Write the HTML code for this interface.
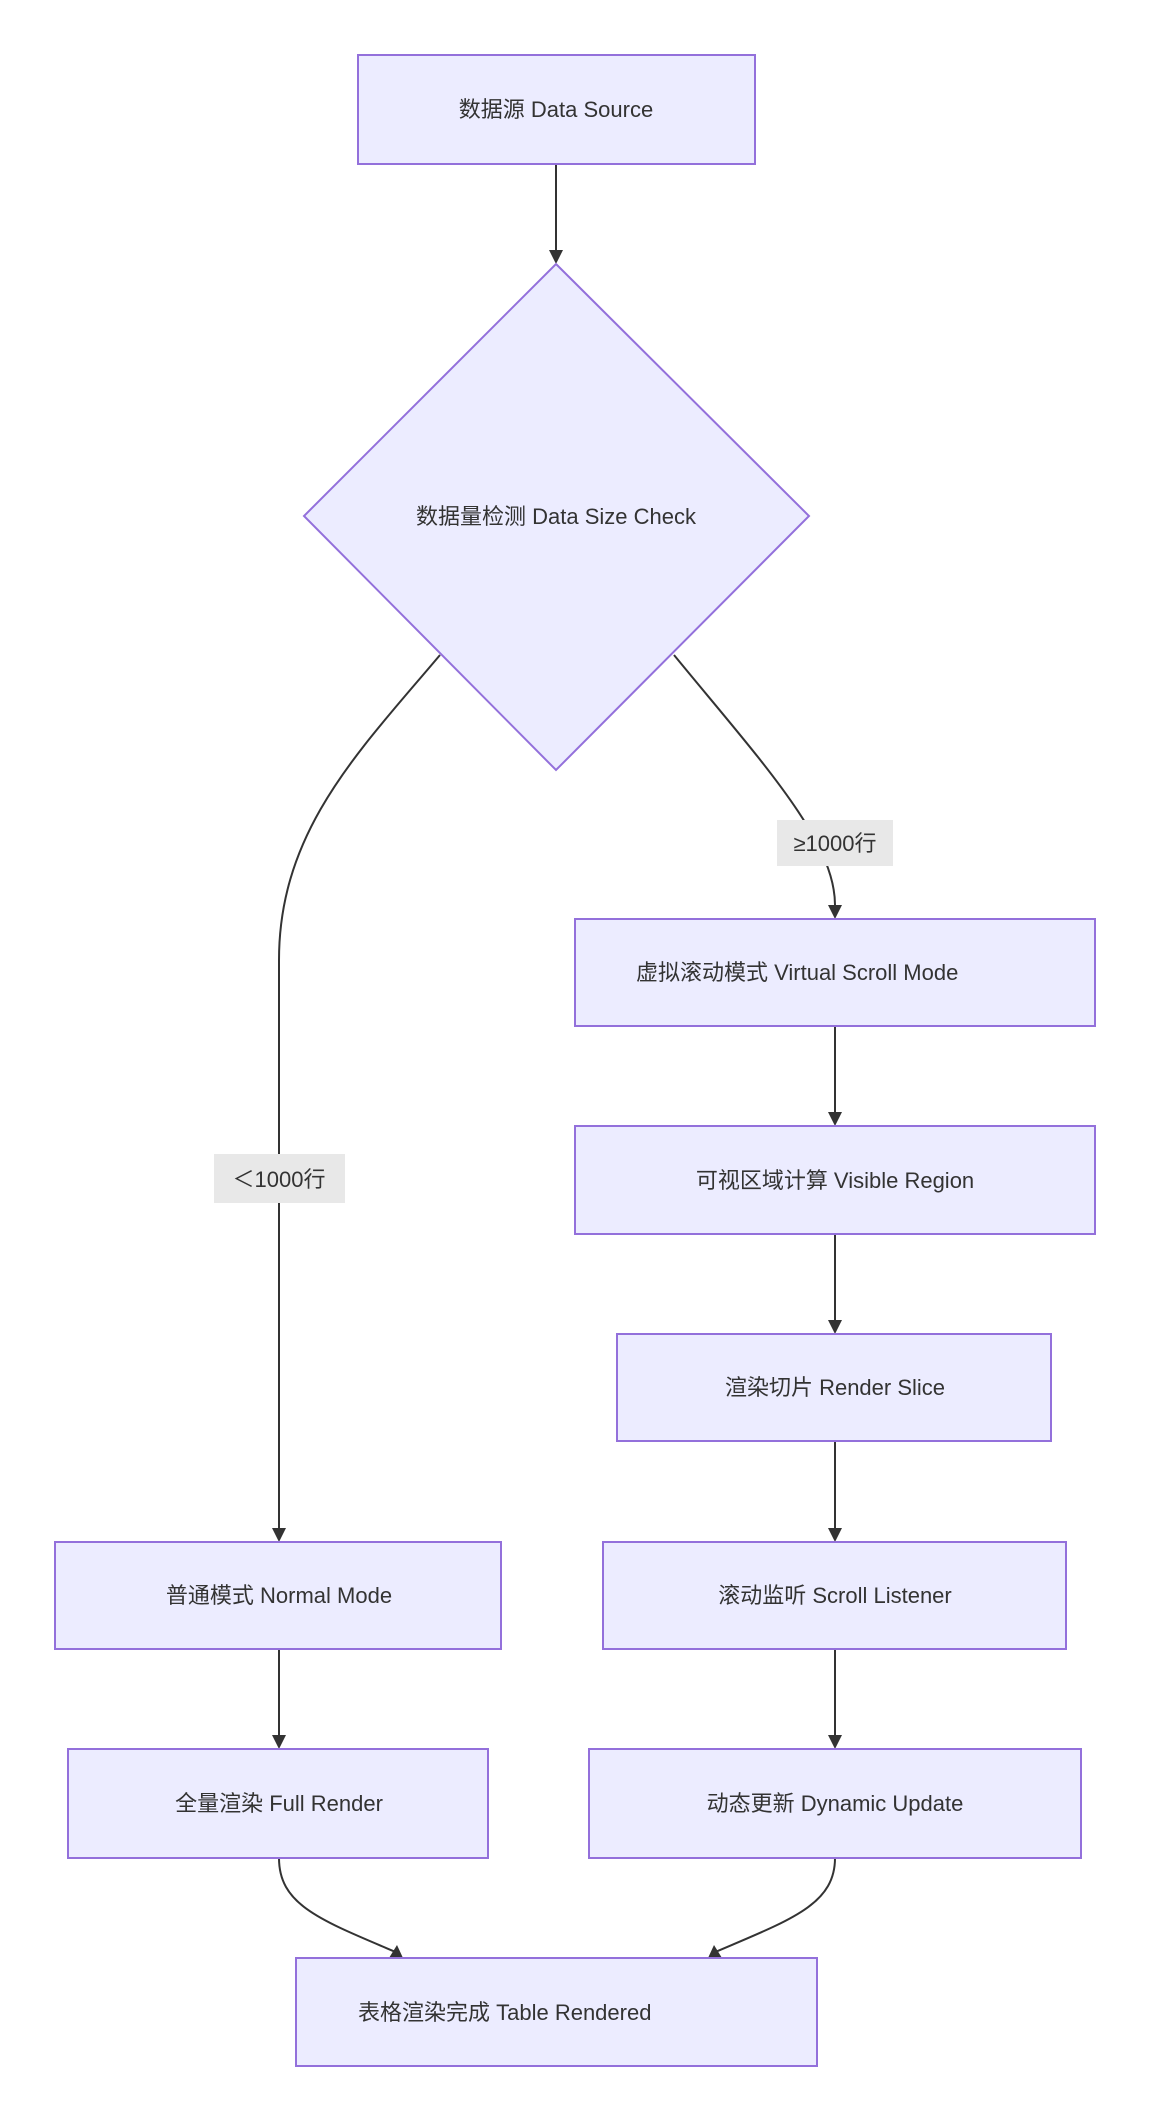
<!DOCTYPE html>
<html><head><meta charset="utf-8"><style>
html,body{margin:0;padding:0;background:#fff;}
svg{display:block;}
text{font-family:"Liberation Sans","Noto Sans CJK SC",sans-serif;font-size:22px;fill:#333;}
.n{fill:#ECECFF;stroke:#9370DB;stroke-width:2;}
.e{fill:none;stroke:#333;stroke-width:2;}
</style></head><body>
<svg width="1150" height="2121" viewBox="0 0 1150 2121" xmlns="http://www.w3.org/2000/svg">
<defs>
<marker id="a" viewBox="0 0 10 10" refX="10" refY="5" markerWidth="8" markerHeight="8" orient="auto" markerUnits="userSpaceOnUse">
<path d="M0,0 L10,5 L0,10 z" fill="#333"/></marker>
<clipPath id="c1"><rect x="600" y="919" width="435" height="107"/></clipPath>
<clipPath id="c2"><rect x="300" y="1958" width="456" height="107"/></clipPath>
</defs>
<!-- edges -->
<path class="e" d="M556,164 L556,262" marker-end="url(#a)" style="marker-end:none"/>
<polygon points="549,250 563,250 556,264" fill="#333"/>
<path class="e" d="M440,655 C360,750 279,830 279,960 L279,1530"/>
<polygon points="272,1528 286,1528 279,1542" fill="#333"/>
<path class="e" d="M674,655 C760,760 835,840 835,905"/>
<polygon points="828,905 842,905 835,919" fill="#333"/>
<path class="e" d="M835,1026 L835,1112"/><polygon points="828,1112 842,1112 835,1126" fill="#333"/>
<path class="e" d="M835,1234 L835,1320"/><polygon points="828,1320 842,1320 835,1334" fill="#333"/>
<path class="e" d="M835,1441 L835,1528"/><polygon points="828,1528 842,1528 835,1542" fill="#333"/>
<path class="e" d="M835,1649 L835,1735"/><polygon points="828,1735 842,1735 835,1749" fill="#333"/>
<path class="e" d="M279,1649 L279,1735"/><polygon points="272,1735 286,1735 279,1749" fill="#333"/>
<path class="e" d="M279,1858 C279,1905 320,1920 398,1953"/>
<polygon points="397,1945 403,1958 389,1958" fill="#333"/>
<path class="e" d="M835,1858 C835,1905 790,1920 713,1953"/>
<polygon points="714,1945 708,1958 722,1958" fill="#333"/>
<!-- labels -->
<rect x="777" y="820" width="116" height="46" fill="#e8e8e8"/>
<text x="835" y="851" text-anchor="middle">≥1000行</text>
<rect x="214" y="1154" width="131" height="49" fill="#e8e8e8"/>
<text x="279" y="1187" text-anchor="middle">＜1000行</text>
<!-- nodes -->
<rect class="n" x="358" y="55" width="397" height="109"/>
<text x="556" y="117" text-anchor="middle">数据源 Data Source</text>
<polygon class="n" points="556,264 809,516 556,770 304,516"/>
<text x="556" y="524" text-anchor="middle">数据量检测 Data Size Check</text>
<rect class="n" x="575" y="919" width="520" height="107"/>
<text x="636" y="980" clip-path="url(#c1)">虚拟滚动模式 Virtual Scroll Mode</text>
<rect class="n" x="575" y="1126" width="520" height="108"/>
<text x="835" y="1188" text-anchor="middle">可视区域计算 Visible Region</text>
<rect class="n" x="617" y="1334" width="434" height="107"/>
<text x="835" y="1395" text-anchor="middle">渲染切片 Render Slice</text>
<rect class="n" x="603" y="1542" width="463" height="107"/>
<text x="835" y="1603" text-anchor="middle">滚动监听 Scroll Listener</text>
<rect class="n" x="589" y="1749" width="492" height="109"/>
<text x="835" y="1811" text-anchor="middle">动态更新 Dynamic Update</text>
<rect class="n" x="55" y="1542" width="446" height="107"/>
<text x="279" y="1603" text-anchor="middle">普通模式 Normal Mode</text>
<rect class="n" x="68" y="1749" width="420" height="109"/>
<text x="279" y="1811" text-anchor="middle">全量渲染 Full Render</text>
<rect class="n" x="296" y="1958" width="521" height="108"/>
<text x="358" y="2020" clip-path="url(#c2)">表格渲染完成 Table Rendered</text>
</svg>
</body></html>
